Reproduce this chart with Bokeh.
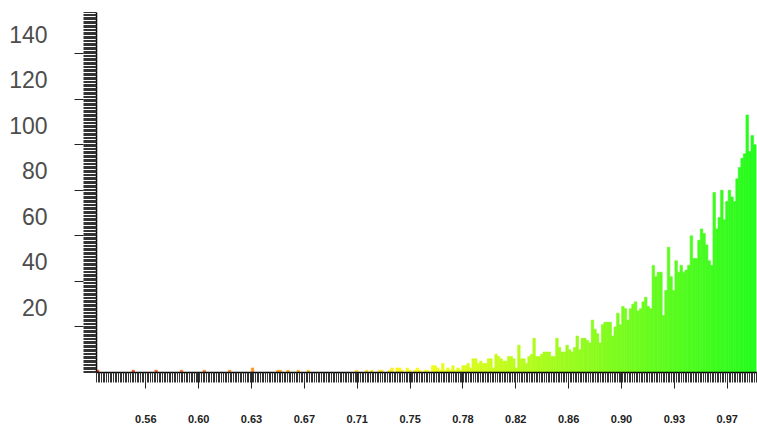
import colorsys
import numpy as np
from bokeh.plotting import figure
from bokeh.models import ColumnDataSource, FixedTicker, Range1d, LinearAxis
from bokeh.embed import file_html
from bokeh.resources import INLINE

# ---- data ----
bin_start = 0.525
bin_width = 0.0018
counts = [
    1, 0, 0, 0, 0, 0, 0, 0, 0, 0, 0, 0, 0, 0, 1, 0, 0, 0, 0, 0,
    0, 0, 0, 1, 0, 0, 0, 0, 0, 0, 0, 0, 0, 1, 0, 0, 0, 0, 0, 0,
    0, 0, 1, 0, 0, 0, 0, 0, 0, 0, 0, 0, 1, 0, 0, 0, 0, 0, 0, 0,
    0, 2, 0, 0, 0, 0, 0, 0, 0, 0, 0, 1, 1, 0, 0, 1, 0, 0, 0, 1,
    0, 0, 0, 1, 0, 0, 0, 0, 0, 0, 0, 0, 0, 0, 0, 0, 0, 0, 0, 0,
    0, 0, 1, 0, 0, 0, 1, 0, 1, 0, 0, 1, 1, 0, 0, 1, 2, 0, 2, 2,
    1, 0, 2, 1, 0, 1, 2, 1, 0, 1, 1, 0, 3, 3, 2, 1, 4, 1, 2, 1,
    3, 1, 2, 1, 3, 3, 4, 2, 6, 6, 4, 5, 4, 4, 6, 6, 2, 8, 7, 6,
    5, 5, 7, 7, 6, 2, 12, 6, 6, 4, 7, 8, 15, 7, 7, 8, 9, 9, 9, 7,
    7, 15, 11, 9, 9, 12, 10, 9, 11, 16, 10, 15, 15, 14, 13, 23, 19, 17, 13, 21,
    22, 22, 22, 16, 20, 26, 21, 29, 28, 23, 28, 30, 31, 27, 28, 31, 33, 29, 28, 47,
    42, 44, 44, 25, 36, 55, 42, 36, 49, 44, 47, 44, 45, 47, 60, 50, 50, 58, 63, 61,
    56, 49, 47, 79, 63, 68, 80, 67, 75, 80, 77, 75, 85, 90, 94, 96, 113, 97, 104, 100,
]
x_tick_values = [0.56, 0.5975, 0.635, 0.6725, 0.71, 0.7475, 0.785, 0.8225,
                 0.86, 0.8975, 0.935, 0.9725]
x_tick_labels = ["0.56", "0.60", "0.63", "0.67", "0.71", "0.75", "0.78",
                 "0.82", "0.86", "0.90", "0.93", "0.97"]
y_tick_values = [20, 40, 60, 80, 100, 120, 140]
y_tick_labels = ["20", "40", "60", "80", "100", "120", "140"]

# ---- derived ----
x0, x1 = 0.525, 0.994
y0, y1 = 0, 158
label_shift = 8.5  # labels sit above their tick marks

centers = [bin_start + (i + 0.5) * bin_width for i in range(len(counts))]


def hue_color(v):
    h = max(0.0, min(1.0, (v - 0.5) / 0.5)) * 120.0 / 360.0
    r, g, b = colorsys.hsv_to_rgb(h, 0.88, 0.99)
    return "#%02x%02x%02x" % (int(r * 255), int(g * 255), int(b * 255))


xs, tops, cols = [], [], []
for c, n in zip(centers, counts):
    if n > 0:
        xs.append(c)
        tops.append(n)
        cols.append(hue_color(c))

src = ColumnDataSource(dict(x=xs, top=tops, color=cols))

p = figure(width=757, height=430, x_range=Range1d(x0, x1), y_range=Range1d(y0, y1),
           output_backend="svg", toolbar_location=None,
           min_border_left=96, min_border_right=0, min_border_top=12, min_border_bottom=58)
p.outline_line_color = None
p.background_fill_color = "white"
p.border_fill_color = "white"
p.xgrid.visible = False
p.ygrid.visible = False

p.vbar(x="x", top="top", width=bin_width, bottom=0, source=src,
       fill_color="color", line_color="color", line_width=0.6)

# x axis
xa = p.xaxis[0]
xa.ticker = FixedTicker(ticks=x_tick_values,
                        minor_ticks=list(np.arange(x0, x1, 0.0012)))
xa.major_label_overrides = {v: s for v, s in zip(x_tick_values, x_tick_labels)}
xa.axis_line_color = "black"
xa.axis_line_width = 1.5
xa.major_tick_line_color = "#222222"
xa.major_tick_out = 16
xa.major_tick_in = 0
xa.minor_tick_line_color = "#333333"
xa.minor_tick_out = 10
xa.minor_tick_in = 0
xa.major_label_standoff = 26
xa.major_label_text_font = "Liberation Sans"
xa.major_label_text_font_style = "bold"
xa.major_label_text_font_size = "11px"
xa.major_label_text_color = "#222222"

# y axis: dense tick band next to the frame (no labels)
ya = p.yaxis[0]
ya.ticker = FixedTicker(ticks=[], minor_ticks=list(np.arange(y0, y1 + 0.01, 0.6)))
ya.axis_line_color = "black"
ya.axis_line_width = 1.5
ya.major_tick_line_color = None
ya.major_tick_out = 13
ya.major_tick_in = 0
ya.minor_tick_line_color = "#333333"
ya.minor_tick_out = 13
ya.minor_tick_in = 0
ya.major_label_standoff = 0

# y labels (placed slightly above their ticks) plus the outer part of the major ticks
p.extra_y_ranges = {"lab": Range1d(y0 - label_shift, y1 - label_shift)}
la = LinearAxis(y_range_name="lab",
                ticker=FixedTicker(ticks=y_tick_values,
                                   minor_ticks=[v - label_shift for v in y_tick_values]))
la.major_label_overrides = {v: s for v, s in zip(y_tick_values, y_tick_labels)}
la.axis_line_color = None
la.major_tick_line_color = None
la.major_tick_out = 9
la.major_tick_in = 0
la.minor_tick_line_color = "#222222"
la.minor_tick_line_width = 1.2
la.minor_tick_out = 9
la.minor_tick_in = 0
la.major_label_standoff = 27
la.major_label_text_font = "Liberation Sans"
la.major_label_text_font_size = "23px"
la.major_label_text_color = "#4d4d4d"
p.add_layout(la, "left")

open("out.html", "w").write(file_html(p, INLINE))
